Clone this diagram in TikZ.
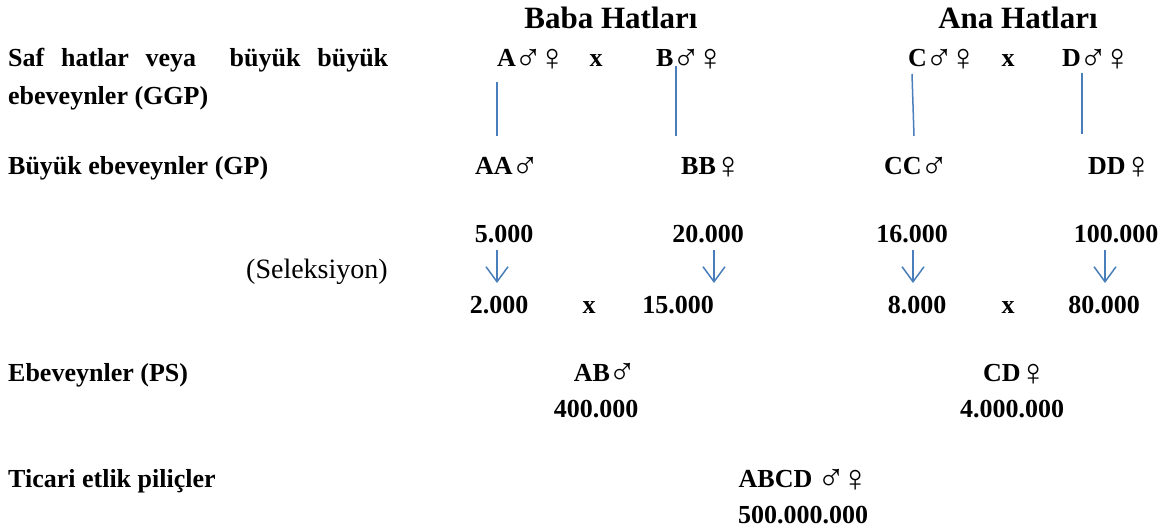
\documentclass[tikz,border=0pt]{standalone}
\usepackage{fontspec}
\usepackage{graphicx}
\setmainfont{Liberation Serif}
\usetikzlibrary{arrows.meta}
\definecolor{lineblue}{HTML}{4A7EBB}
\newcommand\mSym{{\mdseries\kern-1.5pt\raisebox{-3.5pt}{\scalebox{1.45}{♂}}\kern-2.5pt}}
\newcommand\fSym{{\mdseries\kern-1.5pt\raisebox{-4pt}{\scalebox{1.45}{♀}}\kern-2.5pt}}
\begin{document}
\begin{tikzpicture}[x=1pt,y=-1pt,
  every node/.style={inner sep=0pt,font=\fontsize{26}{30}\selectfont\bfseries},
  lbl/.style={anchor=base west},
  num/.style={anchor=base},
  ttl/.style={anchor=base,font=\fontsize{31}{36}\selectfont\bfseries},
  reg/.style={anchor=base west,font=\fontsize{28}{30}\selectfont},
  link/.style={lineblue,line width=1.5pt},
  sel/.style={link,-{Straight Barb[length=15pt,width=22pt,line width=1.5pt]}}]
\useasboundingbox (0,0) rectangle (1165,532);
% titles
\node[ttl] (t1) at (611,29) {Baba Hatları};
\node[ttl] (t2) at (1018,29) {Ana Hatları};
% left labels
\node[lbl] (g1) at (8,67) {\hbox to 380pt{Saf\hfill hatlar\hfill veya\hfill\hfill büyük\hfill büyük}};
\node[lbl] (g2) at (8,105) {ebeveynler (GGP)};
\node[lbl] (gp) at (8,175) {Büyük ebeveynler (GP)};
\node[reg] (se) at (246,278) {(Seleksiyon)};
\node[lbl] (ps) at (8,381) {Ebeveynler (PS)};
\node[lbl] (tc) at (8,487) {Ticari etlik piliçler};
% GGP row
\node[lbl] (A) at (497,67) {A\mSym\fSym};
\node[num] (x1) at (596,67) {x};
\node[lbl] (B) at (656,67) {B\mSym\fSym};
\node[lbl] (C) at (908,67) {C\mSym\fSym};
\node[num] (x2) at (1008,67) {x};
\node[lbl] (D) at (1062,67) {D\mSym\fSym};
% GP row
\node[lbl] (AA) at (475,175) {AA\mSym};
\node[lbl] (BB) at (681,175) {BB\fSym};
\node[lbl] (CC) at (884,175) {CC\mSym};
\node[lbl] (DD) at (1088,175) {DD\fSym};
% lines
\coordinate (a1) at (497,82);  \coordinate (a2) at (497,136);
\coordinate (b1) at (676,66);  \coordinate (b2) at (676,136);
\coordinate (c1) at (912,74);  \coordinate (c2) at (914,136);
\coordinate (d1) at (1082,73); \coordinate (d2) at (1082,134);
\draw[link] (a1) -- (a2);
\draw[link] (b1) -- (b2);
\draw[link] (c1) -- (c2);
\draw[link] (d1) -- (d2);
% numbers before selection
\node[num] (n1) at (504,242) {5.000};
\node[num] (n2) at (708,242) {20.000};
\node[num] (n3) at (912,242) {16.000};
\node[num] (n4) at (1116,242) {100.000};
% selection arrows
\coordinate (s1a) at (497,250);  \coordinate (s1b) at (497,283);
\coordinate (s2a) at (714,250);  \coordinate (s2b) at (714,283);
\coordinate (s3a) at (913,250);  \coordinate (s3b) at (913,283);
\coordinate (s4a) at (1105,250); \coordinate (s4b) at (1105,283);
\draw[sel] (s1a) -- (s1b);
\draw[sel] (s2a) -- (s2b);
\draw[sel] (s3a) -- (s3b);
\draw[sel] (s4a) -- (s4b);
% numbers after selection
\node[num] (m1) at (499,313) {2.000};
\node[num] (x3) at (589,313) {x};
\node[num] (m2) at (678,313) {15.000};
\node[num] (m3) at (917,313) {8.000};
\node[num] (x4) at (1008,313) {x};
\node[num] (m4) at (1104,313) {80.000};
% parents
\node[num] (AB) at (604,381) {AB\mSym};
\node[num] (ABn) at (596,417) {400.000};
\node[num] (CD) at (1014,381) {CD\fSym};
\node[num] (CDn) at (1012,417) {4.000.000};
% commercial
\node[num] (ABCD) at (803,487) {ABCD \mSym\fSym};
\node[num] (ABCDn) at (803,523) {500.000.000};
\end{tikzpicture}
\end{document}
